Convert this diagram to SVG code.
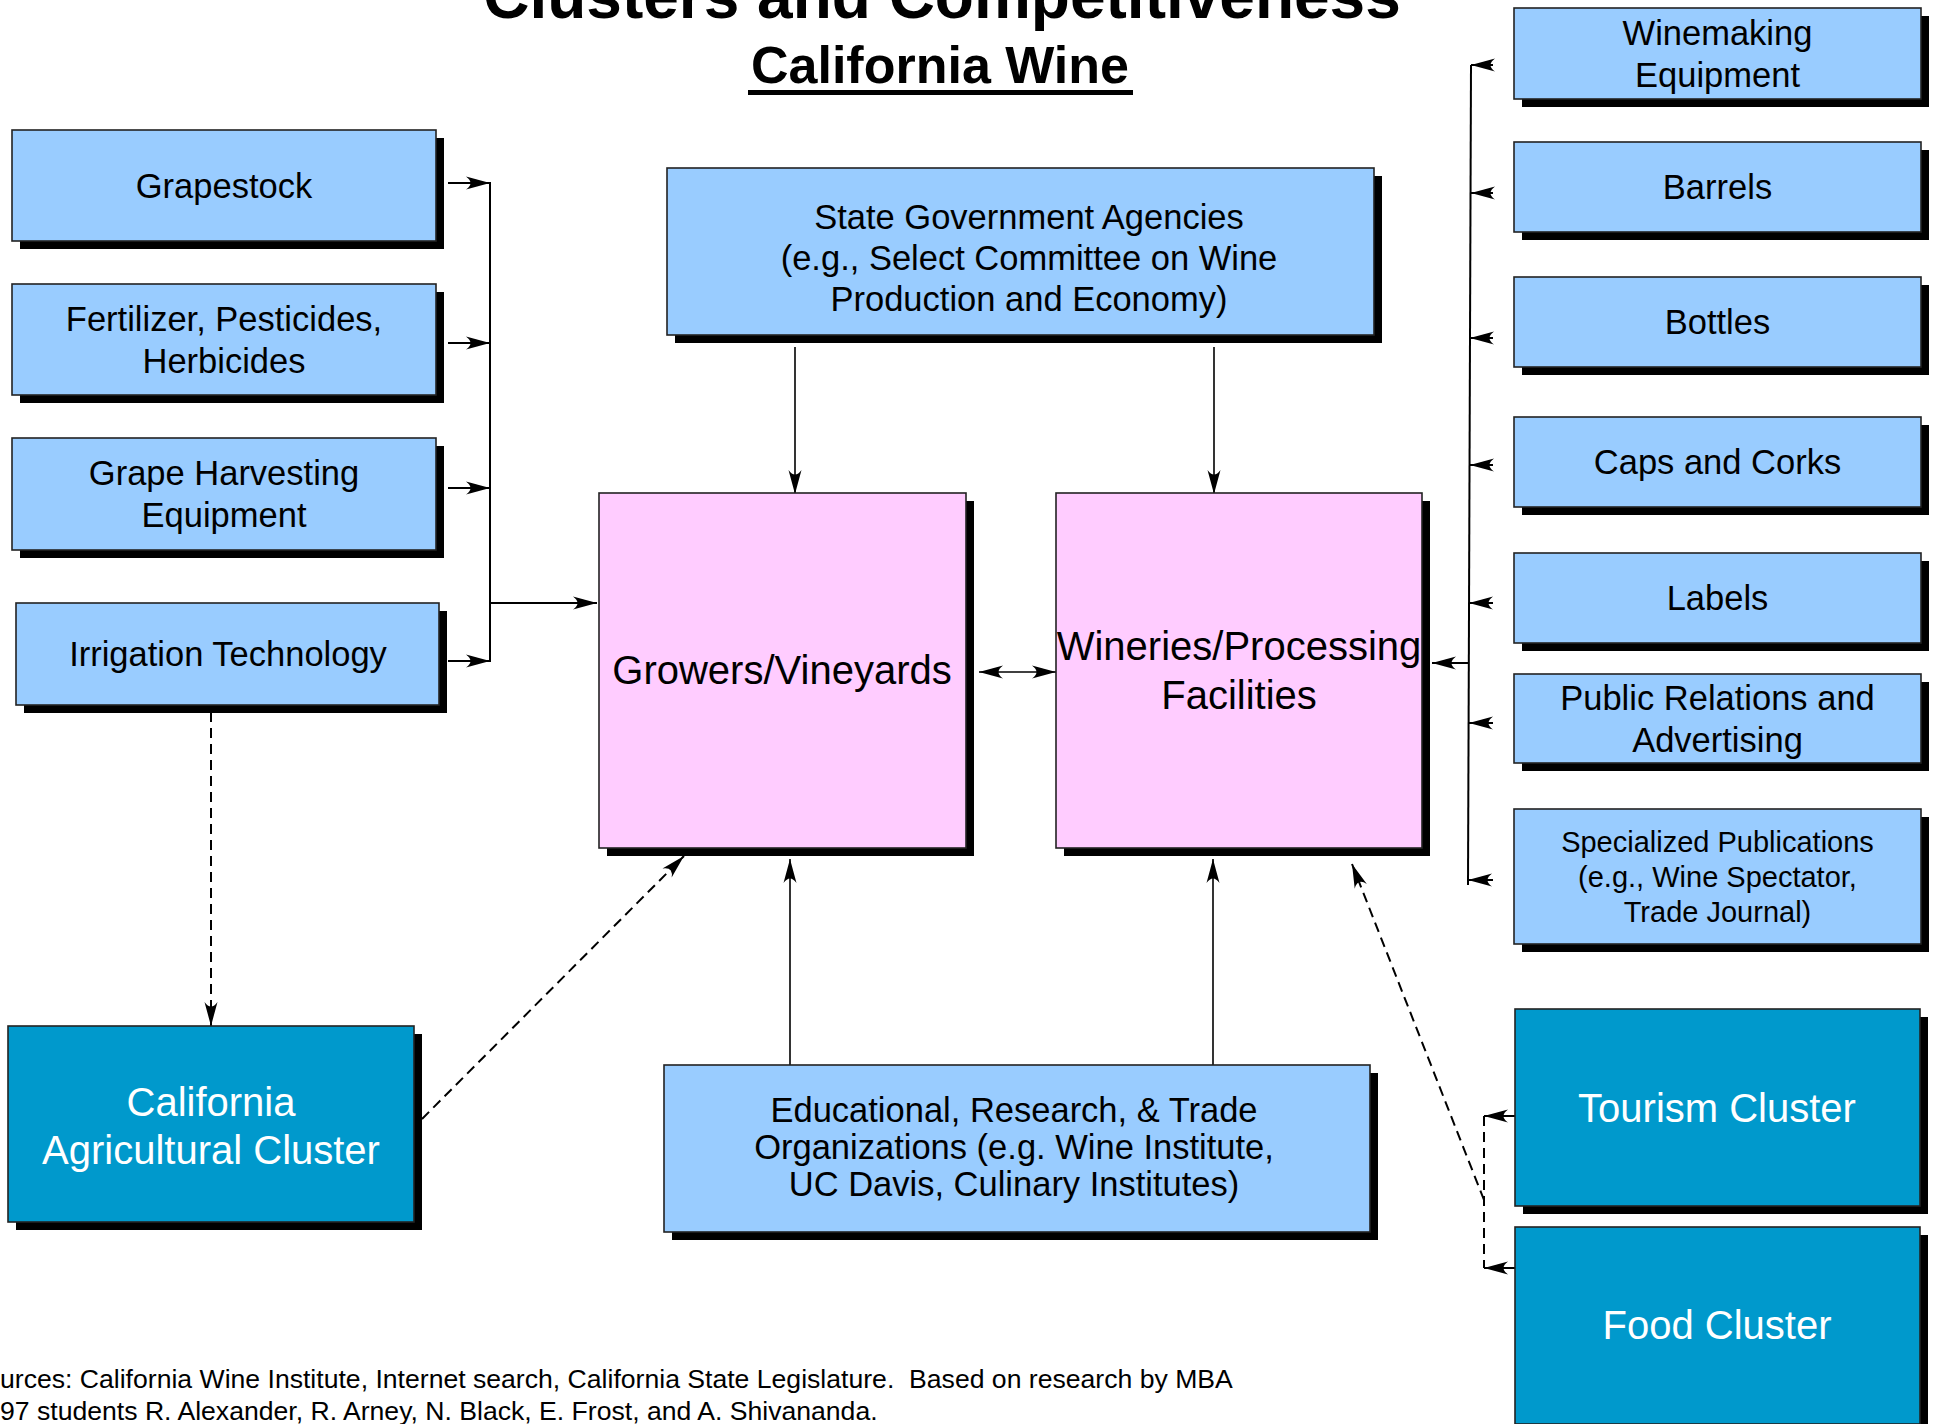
<svg xmlns="http://www.w3.org/2000/svg" width="1936" height="1424" viewBox="0 0 1936 1424">
<style>
text{font-family:"Liberation Sans",Arial,sans-serif;text-anchor:middle;fill:#000}
.shadow{fill:#000}
.blue{fill:#99CCFF;stroke:#222;stroke-width:1.6}
.pink{fill:#FFCCFF;stroke:#222;stroke-width:1.6}
.teal{fill:#0099CC;stroke:#222;stroke-width:1.6}
.t34{font-size:34.5px}
.t40{font-size:40px}
.t29{font-size:29px}
.w{fill:#fff}
.ln{fill:none;stroke:#000;stroke-width:2}
.thin{fill:none;stroke:#000;stroke-width:1.6}
.dash{fill:none;stroke:#000;stroke-width:2;stroke-dasharray:10 6}
.foot{font-size:26.6px;text-anchor:start}
</style>
<defs>
<marker id="arr" markerUnits="userSpaceOnUse" markerWidth="26" markerHeight="16" viewBox="0 0 26 16" refX="25" refY="8" orient="auto-start-reverse">
<path d="M25,8 L1,1.5 Q10,8 1,14.5 Z" fill="#000" stroke="none"/>
</marker>
</defs>
<rect width="1936" height="1424" fill="#fff"/>
<g id="title">
<text x="942" y="18" font-size="64" font-weight="bold">Clusters and Competitiveness</text>
<text x="940" y="83" font-size="52" font-weight="bold">California Wine</text>
<rect x="748" y="90" width="385" height="5" fill="#000"/>
</g>
<g id="connectors">
<line class="ln" x1="448" y1="183" x2="490" y2="183" marker-end="url(#arr)"/>
<line class="ln" x1="448" y1="343" x2="490" y2="343" marker-end="url(#arr)"/>
<line class="ln" x1="448" y1="488" x2="490" y2="488" marker-end="url(#arr)"/>
<line class="ln" x1="448" y1="661" x2="490" y2="661" marker-end="url(#arr)"/>
<line class="ln" x1="490" y1="182" x2="490" y2="662"/>
<line class="ln" x1="490" y1="603" x2="597" y2="603" marker-end="url(#arr)"/>
<line class="thin" x1="795" y1="347" x2="795" y2="494" marker-end="url(#arr)"/>
<line class="thin" x1="1214" y1="347" x2="1214" y2="494" marker-end="url(#arr)"/>
<line class="thin" x1="979" y1="672" x2="1056" y2="672" marker-start="url(#arr)" marker-end="url(#arr)"/>
<line class="thin" x1="790" y1="1065" x2="790" y2="859" marker-end="url(#arr)"/>
<line class="thin" x1="1213" y1="1065" x2="1213" y2="859" marker-end="url(#arr)"/>
<line class="dash" x1="211" y1="712" x2="211" y2="1026" marker-end="url(#arr)"/>
<line class="dash" x1="422" y1="1119" x2="684" y2="856" marker-end="url(#arr)"/>
<line class="ln" x1="1471" y1="65" x2="1468" y2="885"/>
<line class="ln" x1="1493" y1="65" x2="1471" y2="65" marker-end="url(#arr)"/>
<line class="ln" x1="1493" y1="193" x2="1471" y2="193" marker-end="url(#arr)"/>
<line class="ln" x1="1493" y1="338" x2="1470" y2="338" marker-end="url(#arr)"/>
<line class="ln" x1="1493" y1="465" x2="1470" y2="465" marker-end="url(#arr)"/>
<line class="ln" x1="1493" y1="603" x2="1469" y2="603" marker-end="url(#arr)"/>
<line class="ln" x1="1493" y1="723" x2="1469" y2="723" marker-end="url(#arr)"/>
<line class="ln" x1="1493" y1="880" x2="1468" y2="880" marker-end="url(#arr)"/>
<line class="ln" x1="1468" y1="663" x2="1432" y2="663" marker-end="url(#arr)"/>
<line class="ln" x1="1515" y1="1116" x2="1484" y2="1116" marker-end="url(#arr)"/>
<line class="ln" x1="1515" y1="1268" x2="1484" y2="1268" marker-end="url(#arr)"/>
<line class="dash" x1="1484" y1="1116" x2="1484" y2="1268"/>
<line class="dash" x1="1484" y1="1200" x2="1352" y2="864" marker-end="url(#arr)"/>
</g>
<g id="grapestock"><rect class="shadow" x="20" y="138" width="424" height="111"/><rect class="blue" x="12" y="130" width="424" height="111"/><text class="t34" x="224" y="198">Grapestock</text></g>
<g id="fertilizer"><rect class="shadow" x="20" y="292" width="424" height="111"/><rect class="blue" x="12" y="284" width="424" height="111"/><text class="t34" x="224" y="331">Fertilizer, Pesticides,</text><text class="t34" x="224" y="373">Herbicides</text></g>
<g id="harvesting"><rect class="shadow" x="20" y="446" width="424" height="112"/><rect class="blue" x="12" y="438" width="424" height="112"/><text class="t34" x="224" y="485">Grape Harvesting</text><text class="t34" x="224" y="527">Equipment</text></g>
<g id="irrigation"><rect class="shadow" x="24" y="611" width="423" height="102"/><rect class="blue" x="16" y="603" width="423" height="102"/><text class="t34" x="228" y="666">Irrigation Technology</text></g>
<g id="agricultural"><rect class="shadow" x="16" y="1034" width="406" height="196"/><rect class="teal" x="8" y="1026" width="406" height="196"/><text class="t40 w" x="211" y="1116">California</text><text class="t40 w" x="211" y="1164">Agricultural Cluster</text></g>
<g id="stategov"><rect class="shadow" x="675" y="176" width="707" height="167"/><rect class="blue" x="667" y="168" width="707" height="167"/><text class="t34" x="1029" y="229">State Government Agencies</text><text class="t34" x="1029" y="270">(e.g., Select Committee on Wine</text><text class="t34" x="1029" y="311">Production and Economy)</text></g>
<g id="growers"><rect class="shadow" x="607" y="501" width="367" height="355"/><rect class="pink" x="599" y="493" width="367" height="355"/><text class="t40" x="782" y="684">Growers/Vineyards</text></g>
<g id="wineries"><rect class="shadow" x="1064" y="501" width="366" height="355"/><rect class="pink" x="1056" y="493" width="366" height="355"/><text class="t40" x="1239" y="660">Wineries/Processing</text><text class="t40" x="1239" y="709">Facilities</text></g>
<g id="educational"><rect class="shadow" x="672" y="1073" width="706" height="167"/><rect class="blue" x="664" y="1065" width="706" height="167"/><text class="t34" x="1014" y="1122">Educational, Research, &amp; Trade</text><text class="t34" x="1014" y="1159">Organizations (e.g. Wine Institute,</text><text class="t34" x="1014" y="1196">UC Davis, Culinary Institutes)</text></g>
<g id="winemaking"><rect class="shadow" x="1522" y="16" width="407" height="91"/><rect class="blue" x="1514" y="8" width="407" height="91"/><text class="t34" x="1717.5" y="45">Winemaking</text><text class="t34" x="1717.5" y="87">Equipment</text></g>
<g id="barrels"><rect class="shadow" x="1522" y="150" width="407" height="90"/><rect class="blue" x="1514" y="142" width="407" height="90"/><text class="t34" x="1717.5" y="199">Barrels</text></g>
<g id="bottles"><rect class="shadow" x="1522" y="285" width="407" height="90"/><rect class="blue" x="1514" y="277" width="407" height="90"/><text class="t34" x="1717.5" y="334">Bottles</text></g>
<g id="caps"><rect class="shadow" x="1522" y="425" width="407" height="90"/><rect class="blue" x="1514" y="417" width="407" height="90"/><text class="t34" x="1717.5" y="474">Caps and Corks</text></g>
<g id="labels"><rect class="shadow" x="1522" y="561" width="407" height="90"/><rect class="blue" x="1514" y="553" width="407" height="90"/><text class="t34" x="1717.5" y="610">Labels</text></g>
<g id="publicrelations"><rect class="shadow" x="1522" y="682" width="407" height="89"/><rect class="blue" x="1514" y="674" width="407" height="89"/><text class="t34" x="1717.5" y="710">Public Relations and</text><text class="t34" x="1717.5" y="752">Advertising</text></g>
<g id="publications"><rect class="shadow" x="1522" y="817" width="407" height="135"/><rect class="blue" x="1514" y="809" width="407" height="135"/><text class="t29" x="1717.5" y="852">Specialized Publications</text><text class="t29" x="1717.5" y="887">(e.g., Wine Spectator,</text><text class="t29" x="1717.5" y="922">Trade Journal)</text></g>
<g id="tourism"><rect class="shadow" x="1523" y="1017" width="405" height="197"/><rect class="teal" x="1515" y="1009" width="405" height="197"/><text class="t40 w" x="1717" y="1122">Tourism Cluster</text></g>
<g id="food"><rect class="shadow" x="1523" y="1235" width="405" height="197"/><rect class="teal" x="1515" y="1227" width="405" height="197"/><text class="t40 w" x="1717" y="1339">Food Cluster</text></g>
<g id="footer">
<text class="foot" x="0" y="1388" style="white-space:pre" xml:space="preserve">urces: California Wine Institute, Internet search, California State Legislature.  Based on research by MBA</text>
<text class="foot" x="0" y="1420">97 students R. Alexander, R. Arney, N. Black, E. Frost, and A. Shivananda.</text>
</g>
</svg>
